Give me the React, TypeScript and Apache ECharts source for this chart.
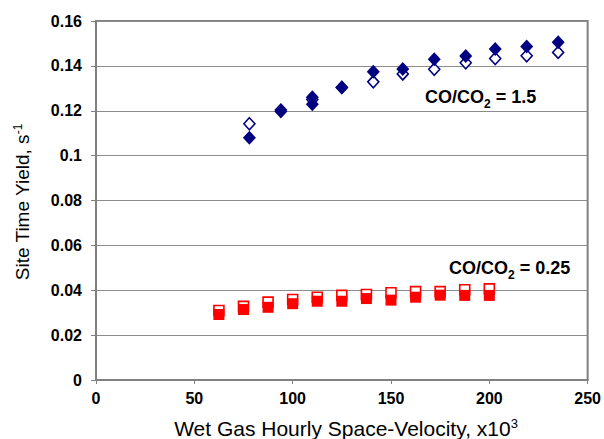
import React, { useEffect, useRef } from "react";
import * as echarts from "echarts";

const xTicks = [0, 50, 100, 150, 200, 250];
const yTicks = [0, 0.02, 0.04, 0.06, 0.08, 0.1, 0.12, 0.14, 0.16];

// CO/CO2 = 1.5 (blue diamonds)
const blueOpenX = [78, 94, 110, 125, 141, 156, 172, 188, 203, 219, 235];
const blueOpenY = [0.1142, 0.1203, 0.125, 0.1304, 0.1329, 0.1364, 0.1385, 0.1414, 0.1433, 0.1445, 0.146];
const blueSolidX = [78, 94, 110, 110, 125, 141, 156, 172, 188, 203, 219, 235];
const blueSolidY = [0.108, 0.1197, 0.126, 0.1229, 0.1304, 0.1374, 0.1386, 0.1429, 0.1444, 0.1475, 0.1486, 0.1505];

// CO/CO2 = 0.25 (red squares)
const redX = [62.5, 75, 87.5, 100, 112.5, 125, 137.5, 150, 162.5, 175, 187.5, 200];
const redOpenY = [0.031, 0.0328, 0.0347, 0.0359, 0.0369, 0.0377, 0.0381, 0.0389, 0.0394, 0.0394, 0.0402, 0.0406];
const redSolidY = [0.0292, 0.0314, 0.0324, 0.034, 0.0351, 0.0351, 0.0363, 0.0356, 0.0369, 0.0378, 0.0377, 0.0377];

const FONT = "'Liberation Sans', Arial, sans-serif";

const zip = (xs: number[], ys: number[]) => xs.map((x, i) => [x, ys[i]]);

export default function App() {
  const ref = useRef<HTMLDivElement>(null);
  useEffect(() => {
    if (!ref.current) return;
    const chart = echarts.init(ref.current, null, { renderer: "svg" });
    chart.setOption({
      animation: false,
      backgroundColor: "#ffffff",
      grid: {
        left: 96,
        right: 16,
        top: 21,
        bottom: 59,
        show: true,
        borderColor: "#808080",
        borderWidth: 2,
        backgroundColor: "transparent",
      },
      xAxis: {
        type: "value",
        min: xTicks[0],
        max: xTicks[xTicks.length - 1],
        interval: 50,
        axisLine: { show: true, lineStyle: { color: "#808080", width: 2 } },
        axisTick: { show: true, length: 4, lineStyle: { color: "#808080", width: 1 } },
        splitLine: { show: false },
        axisLabel: { color: "#000", fontWeight: "bold", fontSize: 16, fontFamily: FONT, margin: 10 },
      },
      yAxis: {
        type: "value",
        min: yTicks[0],
        max: yTicks[yTicks.length - 1],
        interval: 0.02,
        axisLine: { show: true, lineStyle: { color: "#808080", width: 2 } },
        axisTick: { show: true, length: 5, lineStyle: { color: "#808080", width: 1 } },
        splitLine: { show: true, lineStyle: { color: "#8c8c8c", width: 1 } },
        axisLabel: { color: "#000", fontWeight: "bold", fontSize: 16, fontFamily: FONT, margin: 14 },
      },
      series: [
        {
          type: "scatter",
          data: zip(blueOpenX, blueOpenY),
          symbol: "diamond",
          symbolSize: [11, 12],
          itemStyle: { color: "#ffffff", borderColor: "#000080", borderWidth: 1.6, opacity: 1 },
        },
        {
          type: "scatter",
          data: zip(blueSolidX, blueSolidY),
          symbol: "diamond",
          symbolSize: [13, 14],
          itemStyle: { color: "#000080", opacity: 1 },
        },
        {
          type: "scatter",
          data: zip(redX, redOpenY),
          symbol: "rect",
          symbolSize: 10,
          itemStyle: { color: "#ffffff", borderColor: "#ff0000", borderWidth: 1.6, opacity: 1 },
        },
        {
          type: "scatter",
          data: zip(redX, redSolidY),
          symbol: "rect",
          symbolSize: 11,
          itemStyle: { color: "#ff0000", opacity: 1 },
        },
      ],
      graphic: [
        {
          type: "text",
          x: 22,
          y: 202,
          rotation: Math.PI / 2,
          style: {
            text: "Site Time Yield, s{sup|-1}",
            fontSize: 19,
            fontFamily: FONT,
            fill: "#000",
            align: "center",
            verticalAlign: "middle",
            rich: {
              sup: { fontSize: 12, fontFamily: FONT, fill: "#000", padding: [0, 0, 9, 0] },
            },
          },
        },
        {
          type: "text",
          x: 346,
          y: 428,
          style: {
            text: "Wet Gas Hourly Space-Velocity, x10{sup|3}",
            fontSize: 21,
            fontFamily: FONT,
            fill: "#000",
            align: "center",
            verticalAlign: "middle",
            rich: {
              sup: { fontSize: 13, fontFamily: FONT, fill: "#000", padding: [0, 0, 9, 0] },
            },
          },
        },
        {
          type: "text",
          x: 425,
          y: 97,
          style: {
            text: "CO/CO{sub|2} = 1.5",
            fontSize: 18,
            fontWeight: "bold",
            fontFamily: FONT,
            fill: "#000",
            align: "left",
            verticalAlign: "middle",
            rich: {
              sub: { fontSize: 12, fontWeight: "bold", fontFamily: FONT, fill: "#000", padding: [14, 0, 0, 0] },
            },
          },
        },
        {
          type: "text",
          x: 449,
          y: 268,
          style: {
            text: "CO/CO{sub|2} = 0.25",
            fontSize: 18,
            fontWeight: "bold",
            fontFamily: FONT,
            fill: "#000",
            align: "left",
            verticalAlign: "middle",
            rich: {
              sub: { fontSize: 12, fontWeight: "bold", fontFamily: FONT, fill: "#000", padding: [14, 0, 0, 0] },
            },
          },
        },
      ],
    });
    return () => chart.dispose();
  }, []);
  return <div ref={ref} style={{ width: 604, height: 439, position: "absolute", left: 0, top: 0 }} />;
}
